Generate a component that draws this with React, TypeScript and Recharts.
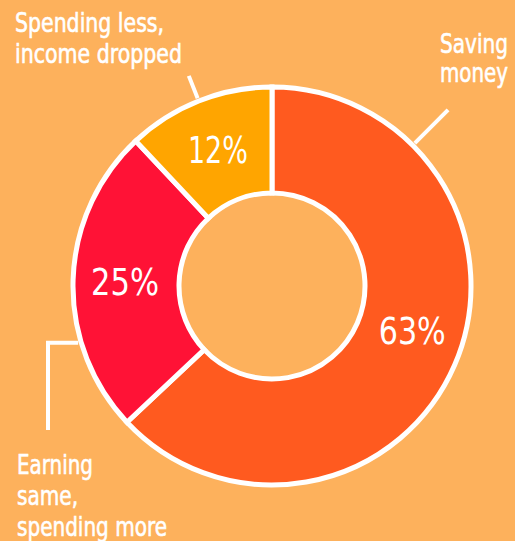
import { PieChart, Pie, Cell } from 'recharts'

// slices, clockwise from 12 o'clock
const categories = ['Saving money', 'Earning same, spending more', 'Spending less, income dropped']
const shares = [63, 25, 12]
const calloutLines = [
  ['Saving', 'money'],
  ['Earning', 'same,', 'spending more'],
  ['Spending less,', 'income dropped']
]

const COLORS = ['#FF5A1F', '#FF1236', '#FFA500']
const BG = '#FDB15C'
const FONT = '"DejaVu Sans Condensed", "Liberation Sans Narrow", sans-serif'
const RAD = Math.PI / 180

// rendered widths of the condensed display face, so text fits like the original
const calloutWidths = [
  [68, 68],
  [76, 61, 150],
  [149, 167]
]
const pctWidths = [67, 68, 60]
// the big slice's label sits a little above its mid angle in the original
const pctAngleShift = [6, 0, 0]

const data = categories.map((name, i) => ({ name, value: shares[i] }))

const polar = (cx: number, cy: number, r: number, angle: number) => ({
  x: cx + r * Math.cos(-angle * RAD),
  y: cy + r * Math.sin(-angle * RAD)
})

function Callout({ index, cx, cy, outerRadius, midAngle }: any) {
  const lines = calloutLines[index]
  const widths = calloutWidths[index]
  const lineProps = { stroke: '#fff', strokeWidth: 4, fill: 'none' }
  const textProps = {
    fill: '#fff',
    stroke: '#fff',
    strokeWidth: 0.6,
    fontSize: 27,
    fontFamily: FONT,
    lengthAdjust: 'spacingAndGlyphs'
  }

  if (index === 0) {
    const a = polar(cx, cy, outerRadius + 3, 45)
    const b = polar(cx, cy, outerRadius + 50, 45)
    return (
      <g>
        <line x1={a.x} y1={a.y} x2={b.x} y2={b.y} {...lineProps} />
        {lines.map((t, i) => (
          <text key={t} x={508 - widths[i]} y={53 + i * 29} textLength={widths[i]} {...textProps}>{t}</text>
        ))}
      </g>
    )
  }
  if (index === 1) {
    const a = polar(cx, cy, outerRadius + 3, 196.3)
    return (
      <g>
        <polyline points={`${a.x},${a.y} 48,${a.y} 48,430`} {...lineProps} />
        {lines.map((t, i) => (
          <text key={t} x={17} y={474 + i * 31} textLength={widths[i]} {...textProps}>{t}</text>
        ))}
      </g>
    )
  }
  const a = polar(cx, cy, outerRadius + 3, midAngle)
  const b = polar(cx, cy, outerRadius + 27, midAngle)
  return (
    <g>
      <line x1={a.x} y1={a.y} x2={b.x} y2={b.y} {...lineProps} />
      {lines.map((t, i) => (
        <text key={t} x={15} y={32 + i * 31} textLength={widths[i]} {...textProps}>{t}</text>
      ))}
    </g>
  )
}

function renderLabel(props: any) {
  const { cx, cy, midAngle, innerRadius, outerRadius, index, value } = props
  const p = polar(cx, cy, (innerRadius + outerRadius) / 2 + 1, midAngle + pctAngleShift[index])
  return (
    <g>
      <text
        x={p.x - pctWidths[index] / 2}
        y={p.y + 14}
        fill="#fff"
        fontSize={38}
        fontFamily={FONT}
        textLength={pctWidths[index]}
        lengthAdjust="spacingAndGlyphs"
      >
        {value}%
      </text>
      <Callout index={index} cx={cx} cy={cy} outerRadius={outerRadius} midAngle={midAngle} />
    </g>
  )
}

export default function App() {
  return (
    <div
      style={{
        position: 'absolute',
        left: 0,
        top: 0,
        width: 515,
        height: 541,
        background: BG,
        overflow: 'hidden'
      }}
    >
      <PieChart width={515} height={541} margin={{ top: 0, right: 0, bottom: 0, left: 0 }}>
        <Pie
          data={data}
          dataKey="value"
          cx={272}
          cy={286}
          innerRadius={93}
          outerRadius={199}
          startAngle={90}
          endAngle={-270}
          stroke="#fff"
          strokeWidth={5}
          label={renderLabel}
          labelLine={false}
          isAnimationActive={false}
        >
          {data.map((entry, i) => (
            <Cell key={entry.name} fill={COLORS[i]} stroke="#fff" strokeWidth={5} />
          ))}
        </Pie>
      </PieChart>
    </div>
  )
}
